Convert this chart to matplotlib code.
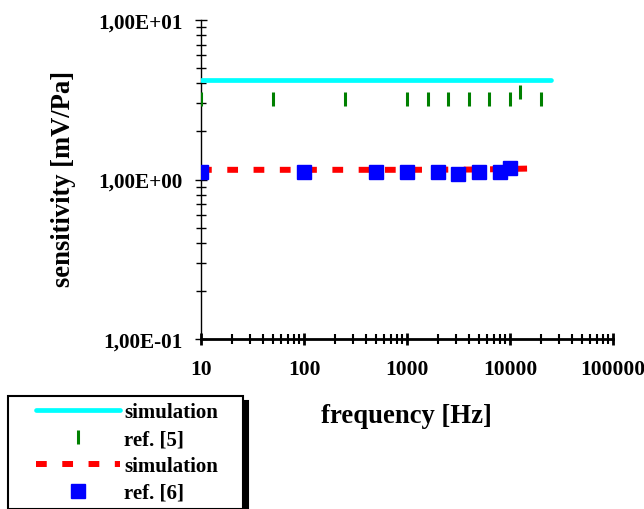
import matplotlib
matplotlib.use("Agg")
import matplotlib.pyplot as plt
from matplotlib.legend_handler import HandlerLine2D
from matplotlib.ticker import LogLocator, NullFormatter, FixedLocator, FixedFormatter

plt.rcParams['font.family'] = ['Liberation Serif', 'DejaVu Serif']
plt.rcParams['font.weight'] = 'bold'

# --- data ---
sim1_freq = [10, 25000]
sim1_val = [4.2, 4.2]

ref5_freq = [10, 50, 250, 1000, 1600, 2500, 4000, 6300, 10000, 12500, 20000]
ref5_val = [3.2, 3.2, 3.2, 3.2, 3.2, 3.2, 3.2, 3.2, 3.2, 3.55, 3.2]

sim2_freq = [10, 100, 1000, 5000, 10000, 20000]
sim2_val = [1.15, 1.15, 1.15, 1.155, 1.165, 1.175]

ref6_freq = [10, 100, 500, 1000, 2000, 3150, 5000, 8000, 10000]
ref6_val = [1.12, 1.12, 1.12, 1.12, 1.12, 1.08, 1.12, 1.12, 1.175]

xticks = [10, 100, 1000, 10000, 100000]
xticklabels = ['10', '100', '1000', '10000', '100000']
yticks = [0.1, 1, 10]
yticklabels = ['1,00E-01', '1,00E+00', '1,00E+01']

fig = plt.figure(figsize=(6.44, 5.10), dpi=100)
ax = fig.add_axes([201/644, 1 - 340/510, (613-201)/644, (340-21)/510])
ax.set_xscale('log')
ax.set_yscale('log')
ax.set_xlim(10, 100000)
ax.set_ylim(0.1, 10)

l1, = ax.plot(sim1_freq, sim1_val, color='#00FFFF', lw=3.4, solid_capstyle='round',
              label='simulation', zorder=3)
l2, = ax.plot(ref5_freq, ref5_val, linestyle='none', marker='|', color='#008000',
              markersize=10, markeredgewidth=2.2, label='ref. [5]', zorder=4)
l3, = ax.plot(sim2_freq, sim2_val, color='#FF0000', lw=4.3, dashes=(1.8, 2.6),
              dash_capstyle='butt', label='simulation', zorder=3)
l4, = ax.plot(ref6_freq, ref6_val, linestyle='none', marker='s', color='#0000FF',
              markersize=10, markeredgewidth=1, markeredgecolor='#0000FF', label='ref. [6]',
              zorder=5)

for s in ['top', 'right']:
    ax.spines[s].set_visible(False)
ax.spines['bottom'].set_linewidth(2.0)
ax.spines['left'].set_linewidth(1.0)

ax.xaxis.set_major_locator(FixedLocator(xticks))
ax.xaxis.set_major_formatter(FixedFormatter(xticklabels))
ax.xaxis.set_minor_locator(LogLocator(base=10, subs=range(2, 10), numticks=20))
ax.xaxis.set_minor_formatter(NullFormatter())
ax.yaxis.set_major_locator(FixedLocator(yticks))
ax.yaxis.set_major_formatter(FixedFormatter(yticklabels))
ax.yaxis.set_minor_locator(LogLocator(base=10, subs=range(2, 10), numticks=20))
ax.yaxis.set_minor_formatter(NullFormatter())

ax.tick_params(axis='x', which='major', direction='inout', length=9, width=2.0, pad=10,
               labelsize=15.5)
ax.tick_params(axis='x', which='minor', direction='inout', length=7, width=1.5)
ax.tick_params(axis='y', which='major', direction='inout', length=9, width=1.0, pad=9,
               labelsize=15.3)
ax.tick_params(axis='y', which='minor', direction='inout', length=7, width=1.0)
for t in ax.get_xticklabels() + ax.get_yticklabels():
    t.set_fontweight('bold')

fig.text(406/644, 1 - 417/510, 'frequency [Hz]', ha='center', va='center',
         fontsize=19.2, fontweight='bold')
fig.text(64/644, 1 - 179/510, 'sensitivity [mV/Pa]', ha='center', va='center',
         rotation=90, fontsize=19.2, fontweight='bold')

fs = 15
hmap = {l: HandlerLine2D(xpad=1.05, numpoints=1) for l in [l1, l2, l3, l4]}
leg = fig.legend(handles=[l1, l2, l3, l4], loc='upper left', mode='expand',
                 bbox_to_anchor=(8/644, 0, 235/644, 1 - 397/510),
                 bbox_transform=fig.transFigure,
                 borderaxespad=0,
                 prop={'family': 'Liberation Serif', 'weight': 'bold', 'size': fs},
                 handlelength=5.08, handletextpad=0.19, borderpad=0.3, labelspacing=0.33,
                 fancybox=False, edgecolor='black', framealpha=1, handler_map=hmap,
                 shadow={'color': 'black', 'alpha': 1, 'ox': 3.5, 'oy': -3.5})
leg.get_frame().set_linewidth(1.5)

fig.savefig('out.png', dpi=100)
